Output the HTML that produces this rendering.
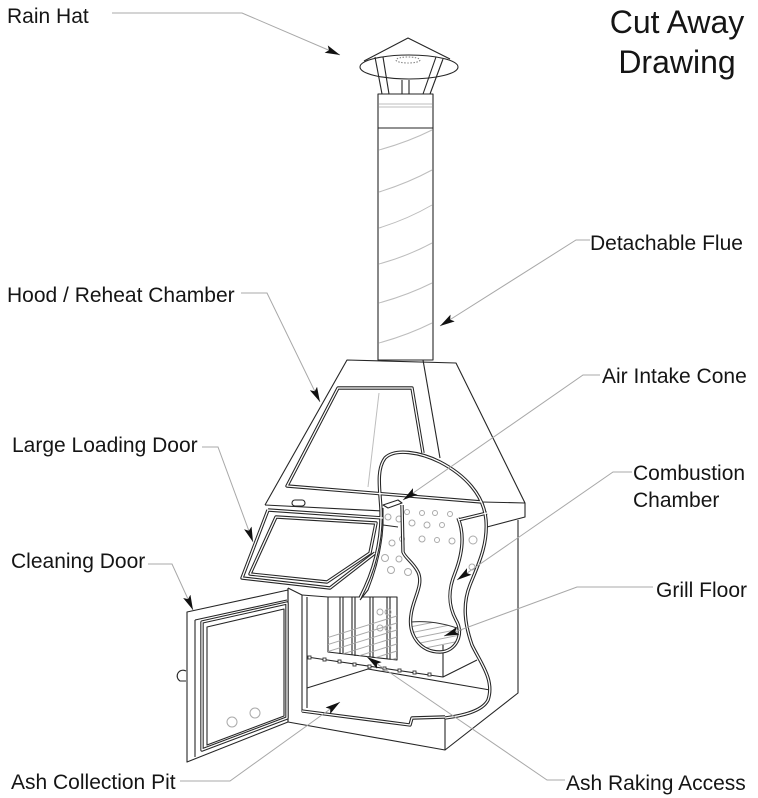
<!DOCTYPE html>
<html><head><meta charset="utf-8"><style>
html,body{margin:0;padding:0;background:#fff;}
svg{display:block;}
text{font-family:"Liberation Sans",Arial,sans-serif;fill:#151515;}
</style></head><body>
<svg width="758" height="798" viewBox="0 0 758 798" xmlns="http://www.w3.org/2000/svg">
<defs>
<marker id="a" markerUnits="userSpaceOnUse" markerWidth="18" markerHeight="10" refX="15" refY="4" orient="auto">
<path d="M0,0 L15,4 L0,8 L3,4 z" fill="#111"/>
</marker>
<clipPath id="gf"><path d="M411,622 Q437,620 462,630 Q456,652 438,652 Q414,650 411,622 Z"/></clipPath>
<clipPath id="gr"><path d="M328,630 L367,617 L397,612 L397,660 L328,652 Z"/></clipPath>
</defs>
<rect width="758" height="798" fill="#fff"/>

<!-- Title -->
<text x="677" y="33" font-size="32" text-anchor="middle">Cut Away</text>
<text x="677" y="73" font-size="32" text-anchor="middle">Drawing</text>

<!-- Labels -->
<g font-size="21">
<text x="7" y="23">Rain Hat</text>
<text x="7" y="302">Hood / Reheat Chamber</text>
<text x="590" y="250">Detachable Flue</text>
<text x="602" y="383">Air Intake Cone</text>
<text x="633" y="480">Combustion</text>
<text x="633" y="507">Chamber</text>
<text x="656" y="597">Grill Floor</text>
<text x="12" y="452">Large Loading Door</text>
<text x="11" y="568">Cleaning Door</text>
<text x="11" y="789">Ash Collection Pit</text>
<text x="566" y="790">Ash Raking Access</text>
</g>

<!-- Flue spiral (gray) -->
<g stroke="#bdbdbd" stroke-width="1" fill="none">
<line x1="379" y1="104" x2="432" y2="104"/>
<line x1="379" y1="107" x2="432" y2="107"/>
<path d="M379,150 Q408,142 432,130"/>
<path d="M379,192 Q408,183 432,170"/>
<path d="M379,228 Q408,219 432,205"/>
<path d="M379,264 Q408,256 432,243"/>
<path d="M379,303 Q408,295 432,283"/>
<path d="M379,343 Q408,335 432,323"/>
<line x1="379" y1="393" x2="368" y2="487"/>
</g>

<g stroke="#262626" stroke-width="1.1" fill="none" stroke-linejoin="round">
<!-- Rain hat -->
<path d="M364,61 L408,38 L450,59"/>
<ellipse cx="409" cy="67" rx="49" ry="12"/>
<ellipse cx="408" cy="60" rx="12" ry="3" stroke="#888" stroke-dasharray="1.5 1.5"/>
<line x1="375" y1="57" x2="382" y2="94"/>
<line x1="383" y1="57" x2="389" y2="94"/>
<line x1="436" y1="57" x2="423" y2="94"/>
<line x1="443" y1="59" x2="430" y2="94"/>
<line x1="402" y1="80" x2="402" y2="94"/>
<line x1="409" y1="80" x2="409" y2="94"/>
<!-- Flue -->
<rect x="378" y="94" width="55" height="266"/>
<line x1="378" y1="128" x2="433" y2="128"/>

<!-- Hood -->
<path d="M265,505 L347,360 L456,363 L525,503 L525,517 L487,527"/>
<line x1="423" y1="360" x2="440" y2="458"/>
<line x1="482" y1="502" x2="525" y2="503"/>
<line x1="265" y1="505" x2="383" y2="511"/>
<!-- box right wall -->
<path d="M518,520 L518,693 L445,750"/>
<!-- base -->
<path d="M288,722 L445,750 L445,717"/>
<line x1="288" y1="588" x2="288" y2="722"/>
<line x1="288" y1="588" x2="302" y2="595"/>
<!-- opening -->
<line x1="302" y1="595" x2="302" y2="712"/>
<line x1="307" y1="597" x2="307" y2="708"/>
<line x1="302" y1="595" x2="328" y2="597"/>
<!-- floor lines -->
<path d="M307,688 L368,669 L490,690"/>
<line x1="307" y1="657" x2="443" y2="677"/>
<!-- grate -->
<path d="M328,597 L397,597 L397,660 L328,652 Z"/>
<line x1="340" y1="597" x2="340" y2="654"/><line x1="343" y1="597" x2="343" y2="654"/>
<line x1="352" y1="597" x2="352" y2="655"/><line x1="355" y1="597" x2="355" y2="656"/>
<line x1="370" y1="597" x2="370" y2="657"/><line x1="373" y1="597" x2="373" y2="658"/>
<line x1="387" y1="597" x2="387" y2="659"/><line x1="390" y1="597" x2="390" y2="659"/>
<!-- grill floor box -->
<path d="M443,645 L443,677 L477,660"/>
<!-- cleaning door -->
<path d="M187,612 L288,590 L288,722 L187,762 Z"/>
<path d="M195,620 L287,600"/>
<line x1="195" y1="620" x2="195" y2="757"/>
<path d="M207,627 L284,609 L284,716 L207,745 Z"/>
<path d="M186,671 A5,5 0 0 0 180,681 L186,681"/>
<!-- loading door handle -->
<rect x="292" y="500" width="13" height="6" rx="3"/>
<!-- cone top -->
<path d="M383,505 L398,500 L402,503 L388,508 Z"/>
<line x1="383" y1="525" x2="398" y2="527"/>
<path d="M383,508 L383,525 C382,545 378,565 368,590 L360,600"/>
</g>

<!-- rake squares -->
<g fill="#fff" stroke="#333" stroke-width="0.9">
<rect x="308" y="656" width="3" height="3"/><rect x="323" y="658" width="3" height="3"/>
<rect x="338" y="660" width="3" height="3"/><rect x="353" y="663" width="3" height="3"/>
<rect x="368" y="665" width="3" height="3"/><rect x="383" y="667" width="3" height="3"/>
<rect x="398" y="669" width="3" height="3"/><rect x="413" y="671" width="3" height="3"/>
<rect x="428" y="673" width="3" height="3"/>
</g>

<!-- hatches -->
<g stroke="#aaa" stroke-width="1" clip-path="url(#gr)">
<line x1="320" y1="640" x2="400" y2="615"/><line x1="320" y1="647" x2="400" y2="622"/>
<line x1="320" y1="654" x2="400" y2="629"/><line x1="320" y1="661" x2="400" y2="636"/>
<line x1="320" y1="668" x2="400" y2="643"/><line x1="320" y1="675" x2="400" y2="650"/>
<line x1="320" y1="682" x2="400" y2="657"/><line x1="320" y1="689" x2="400" y2="664"/>
</g>
<g stroke="#aaa" stroke-width="1" clip-path="url(#gf)">
<line x1="405" y1="628" x2="470" y2="615"/><line x1="405" y1="634" x2="470" y2="621"/>
<line x1="405" y1="640" x2="470" y2="627"/><line x1="405" y1="646" x2="470" y2="633"/>
<line x1="405" y1="652" x2="470" y2="639"/><line x1="405" y1="658" x2="470" y2="645"/>
<line x1="405" y1="664" x2="470" y2="651"/>
</g>
<path d="M411,622 Q437,620 462,630" fill="none" stroke="#333" stroke-width="1"/>

<!-- holes -->
<g fill="none" stroke="#aaa" stroke-width="1">
<circle cx="407" cy="512" r="2.5"/><circle cx="422" cy="513" r="2.5"/><circle cx="435" cy="513" r="2.5"/>
<circle cx="450" cy="514" r="2.5"/><circle cx="388" cy="517" r="3"/><circle cx="399" cy="519" r="3"/>
<circle cx="412" cy="523" r="3"/><circle cx="427" cy="525" r="3"/><circle cx="442" cy="525" r="2.5"/>
<circle cx="422" cy="539" r="3"/><circle cx="437" cy="540" r="2.5"/><circle cx="452" cy="541" r="3"/>
<circle cx="473" cy="540" r="4"/><circle cx="392" cy="543" r="3"/><circle cx="402" cy="539" r="2.5"/>
<circle cx="385" cy="558" r="3.5"/><circle cx="399" cy="559" r="3"/><circle cx="391" cy="570" r="3.5"/>
<circle cx="408" cy="572" r="3.5"/><circle cx="472" cy="567" r="3"/>
<circle cx="380" cy="612" r="3"/><circle cx="388" cy="612" r="3"/>
<circle cx="380" cy="628" r="3"/><circle cx="388" cy="628" r="3"/>
<circle cx="232" cy="722" r="5"/><circle cx="255" cy="713" r="5"/>
</g>

<!-- double-line elements -->
<g fill="none" stroke-linejoin="round">
<g stroke="#262626" stroke-width="3.4">
<path d="M423,453 L412,388 L338,388 L287,486 L482,502"/>
<path d="M268,510 L383,518 M375,553 L330,588 L242,578 L268,510"/>
<path d="M276,517 L376,523 L370,553 L327,582 L250,574 Z"/>
<path d="M202,622 L287,603 L287,718 L202,750 Z"/>
<path d="M302,711 L410,725 L412,718 L445,717"/>
<path d="M458,520 L487,513"/>
<path d="M360,598 C372,575 382,545 381,510 C380,490 376,470 385,458 C395,448 420,452 440,462 C465,475 484,495 486,520 C488,545 478,565 470,585 C462,605 465,625 472,645 C480,662 495,680 488,700 C482,712 460,716 445,718"/>
<path d="M458,518 C465,535 462,555 455,573 C448,590 448,605 456,620 C465,635 455,652 440,652 C420,652 408,635 411,615 C413,598 424,585 418,572 C413,562 405,558 403,552 L402,505"/>
</g>
<g stroke="#fff" stroke-width="1.3">
<path d="M423,453 L412,388 L338,388 L287,486 L482,502"/>
<path d="M268,510 L383,518 M375,553 L330,588 L242,578 L268,510"/>
<path d="M276,517 L376,523 L370,553 L327,582 L250,574 Z"/>
<path d="M202,622 L287,603 L287,718 L202,750 Z"/>
<path d="M302,711 L410,725 L412,718 L445,717"/>
<path d="M458,520 L487,513"/>
<path d="M360,598 C372,575 382,545 381,510 C380,490 376,470 385,458 C395,448 420,452 440,462 C465,475 484,495 486,520 C488,545 478,565 470,585 C462,605 465,625 472,645 C480,662 495,680 488,700 C482,712 460,716 445,718"/>
<path d="M458,518 C465,535 462,555 455,573 C448,590 448,605 456,620 C465,635 455,652 440,652 C420,652 408,635 411,615 C413,598 424,585 418,572 C413,562 405,558 403,552 L402,505"/>
</g>
</g>

<!-- leaders -->
<g fill="none" stroke="#a8a8a8" stroke-width="1" marker-end="url(#a)">
<polyline points="112,13 242,13 340,55"/>
<polyline points="241,293 267,293 320,402"/>
<polyline points="590,240 576,240 440,326"/>
<polyline points="600,375 583,375 403,500"/>
<polyline points="632,472 613,472 457,580"/>
<polyline points="653,587 577,587 444,636"/>
<polyline points="202,447 218,447 253,542"/>
<polyline points="148,564 172,564 193,610"/>
<polyline points="180,781 230,781 340,702"/>
<polyline points="565,780 547,780 367,657"/>
</g>
</svg>
</body></html>
